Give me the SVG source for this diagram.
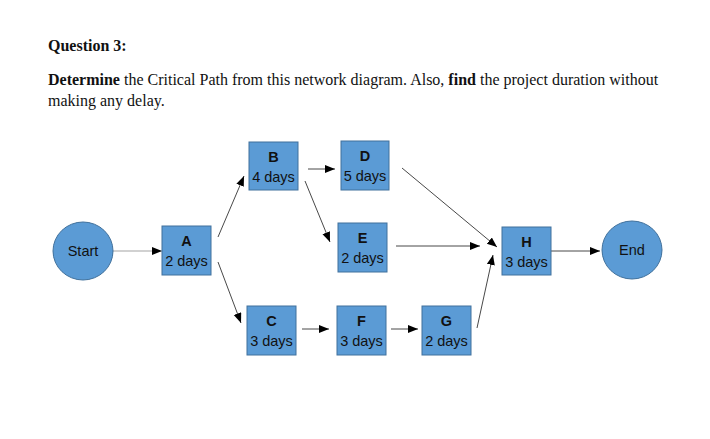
<svg xmlns="http://www.w3.org/2000/svg" width="710" height="439" viewBox="0 0 710 439">
<style>
.hd{font-family:"Liberation Serif","Times New Roman",serif;font-size:16px;fill:#111}
.b{font-weight:bold}
.box{fill:#5B9BD5;stroke:#41719C;stroke-width:1}
.nt{font-family:"Liberation Sans",Arial,sans-serif;font-size:14.5px;fill:#111;text-anchor:middle}
.nb{font-weight:bold}
.ln{stroke:#333;stroke-width:0.9;fill:none;marker-end:url(#ah)}
</style>
<defs>
<marker id="ah" markerUnits="userSpaceOnUse" markerWidth="11" markerHeight="9" refX="10" refY="4" orient="auto">
<path d="M0,0 L10,4 L0,8 z" fill="#000"/>
</marker>
</defs>
<rect width="710" height="439" fill="#fff"/>
<text class="hd b" x="48" y="51">Question 3:</text>
<text class="hd" x="48" y="85"><tspan class="b">Determine</tspan> the Critical Path from this network diagram. Also, <tspan class="b">find</tspan> the project duration without</text>
<text class="hd" x="48" y="106">making any delay.</text>
<g id="connectors">
<line class="ln" x1="113" y1="251" x2="162" y2="251" style="stroke:#999"/>
<line class="ln" x1="218" y1="237" x2="244" y2="176"/>
<line class="ln" x1="218" y1="262" x2="241" y2="323"/>
<line class="ln" x1="308" y1="169" x2="335" y2="169"/>
<line class="ln" x1="305" y1="181" x2="330" y2="242"/>
<line class="ln" x1="402" y1="168" x2="497" y2="247"/>
<line class="ln" x1="396" y1="246" x2="480" y2="246"/>
<line class="ln" x1="477" y1="328" x2="493" y2="255"/>
<line class="ln" x1="302" y1="329" x2="329" y2="329"/>
<line class="ln" x1="391" y1="329" x2="418" y2="329"/>
<line class="ln" x1="551" y1="251" x2="600" y2="251"/>
</g>
<g id="start">
<ellipse class="box" cx="83" cy="251" rx="30" ry="29"/>
<text class="nt" x="83" y="256">Start</text>
</g>
<g id="A">
<rect class="box" x="162" y="226" width="49" height="49"/>
<text class="nt nb" x="186.5" y="246">A</text>
<text class="nt" x="186.5" y="265.5">2 days</text>
</g>
<g id="B">
<rect class="box" x="249" y="142" width="49" height="48"/>
<text class="nt nb" x="273.5" y="162">B</text>
<text class="nt" x="273.5" y="181.5">4 days</text>
</g>
<g id="C">
<rect class="box" x="247" y="306" width="49" height="49"/>
<text class="nt nb" x="271.5" y="326">C</text>
<text class="nt" x="271.5" y="345.5">3 days</text>
</g>
<g id="D">
<rect class="box" x="341" y="141" width="48" height="49"/>
<text class="nt nb" x="365" y="161">D</text>
<text class="nt" x="365" y="180.5">5 days</text>
</g>
<g id="E">
<rect class="box" x="338" y="223" width="49" height="49"/>
<text class="nt nb" x="362.5" y="243">E</text>
<text class="nt" x="362.5" y="262.5">2 days</text>
</g>
<g id="F">
<rect class="box" x="337" y="306" width="49" height="49"/>
<text class="nt nb" x="361.5" y="326">F</text>
<text class="nt" x="361.5" y="345.5">3 days</text>
</g>
<g id="G">
<rect class="box" x="422" y="306" width="49" height="49"/>
<text class="nt nb" x="446.5" y="326">G</text>
<text class="nt" x="446.5" y="345.5">2 days</text>
</g>
<g id="H">
<rect class="box" x="502" y="227" width="49" height="48"/>
<text class="nt nb" x="526.5" y="247">H</text>
<text class="nt" x="526.5" y="266.5">3 days</text>
</g>
<g id="end">
<ellipse class="box" cx="632" cy="250" rx="30" ry="29"/>
<text class="nt" x="632" y="255">End</text>
</g>
</svg>
